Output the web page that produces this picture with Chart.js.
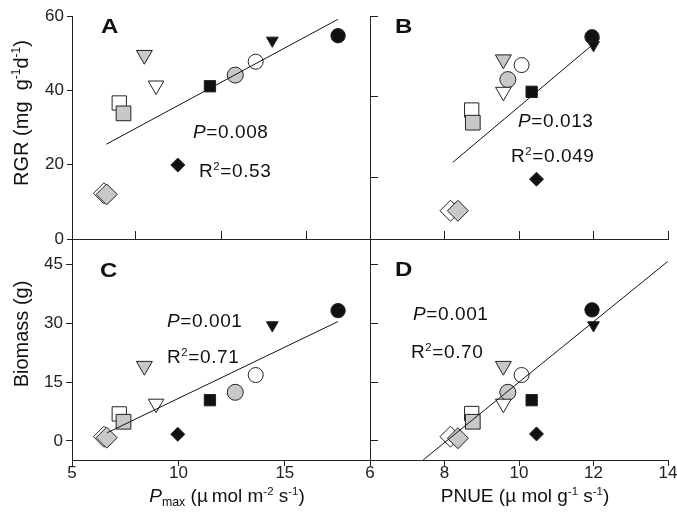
<!DOCTYPE html>
<html>
<head>
<meta charset="utf-8">
<script src="https://cdn.jsdelivr.net/npm/chart.js@4.4.0/dist/chart.umd.min.js"></script>
<style>
  html, body { margin: 0; padding: 0; background: #fff; overflow: hidden; }
  #wrap { position: relative; width: 677px; height: 517px; overflow: hidden; }
  canvas { position: absolute; left: 0; top: 0; }
  .t { position: absolute; font-family: 'Liberation Sans', Arial, sans-serif; color: #111; white-space: nowrap; }
  .ann { font-size: 19px; line-height: 19px; letter-spacing: 0.6px; }
  .lab { font-size: 20px; line-height: 20px; font-weight: bold; transform: scaleX(1.2); transform-origin: left top; }
  .ytitle { font-size: 20px; line-height: 20px; transform: translate(-50%, -50%) rotate(-90deg); }
  .xtitle { font-size: 19px; line-height: 19px; transform: translateX(-50%); }
  sup { font-size: 0.6em; vertical-align: 0.65em; line-height: 0; }
  sub { font-size: 0.65em; vertical-align: -0.3em; line-height: 0; }
</style>
</head>
<body>
<div id="wrap">
  <canvas id="chartA" width="700" height="540"></canvas>
  <canvas id="chartB" width="700" height="540"></canvas>
  <canvas id="chartC" width="700" height="540"></canvas>
  <canvas id="chartD" width="700" height="540"></canvas>

  <div class="t lab" style="left:101px; top:16px">A</div>
  <div class="t lab" style="left:395px; top:16px">B</div>
  <div class="t lab" style="left:100px; top:260px">C</div>
  <div class="t lab" style="left:395px; top:259px">D</div>

  <div class="t ann" style="left:193px; top:122px"><i>P</i>=0.008</div>
  <div class="t ann" style="left:199px; top:161px">R<sup>2</sup>=0.53</div>
  <div class="t ann" style="left:518px; top:111px"><i>P</i>=0.013</div>
  <div class="t ann" style="left:511px; top:146px">R<sup>2</sup>=0.049</div>
  <div class="t ann" style="left:167px; top:311px"><i>P</i>=0.001</div>
  <div class="t ann" style="left:167px; top:347px">R<sup>2</sup>=0.71</div>
  <div class="t ann" style="left:413px; top:304px"><i>P</i>=0.001</div>
  <div class="t ann" style="left:411px; top:342px">R<sup>2</sup>=0.70</div>

  <div class="t ytitle" style="left:21px; top:113px">RGR (mg&nbsp; g<sup>-1</sup>d<sup>-1</sup>)</div>
  <div class="t ytitle" style="left:21px; top:334px">Biomass (g)</div>
  <div class="t xtitle" style="left:227px; top:486px"><i>P</i><sub>max</sub> (&micro;&thinsp;mol m<sup>-2</sup> s<sup>-1</sup>)</div>
  <div class="t xtitle" style="left:525px; top:486px">PNUE (&micro; mol g<sup>-1</sup> s<sup>-1</sup>)</div>
</div>

<script>
// marker order: black / white / grey circle, triangle (down), square, diamond
const pointStyles = ['circle', 'circle', 'circle', 'triangle', 'triangle', 'triangle',
  'rect', 'rect', 'rect', 'rectRot', 'rectRot', 'rectRot'];
const rotations = [0, 0, 0, 180, 180, 180, 0, 0, 0, 0, 0, 0];
const radii = [7.2, 7.5, 8, 6.8, 9, 9.2, 8, 10.1, 10.4, 7, 10.5, 10.5];
const fills = ['#111', '#fff', '#c8c8c8', '#111', '#fff', '#c8c8c8',
  '#111', '#fff', '#c8c8c8', '#111', '#fff', '#c8c8c8'];

// values
const pmax = [17.5, 13.63, 12.67, 14.41, 8.95, 8.4, 11.48, 7.22, 7.42, 9.97, 6.5, 6.63];
const pnue = [11.96, 10.07, 9.7, 12.0, 9.58, 9.58, 10.34, 8.73, 8.76, 10.47, 8.16, 8.36];
const rgrA = [54.7, 47.7, 44.1, 53.4, 41.3, 49.5, 41.1, 36.6, 33.8, 19.9, 12.3, 12.0];
const rgrB = [54.4, 46.8, 42.9, 52.2, 39.6, 48.3, 39.6, 34.7, 31.3, 16.1, 7.6, 7.6];
const bioC = [33.2, 16.8, 12.4, 29.5, 9.5, 19.1, 10.4, 6.9, 4.9, 1.7, 1.1, 0.85];
const bioD = [33.4, 16.8, 12.4, 29.5, 9.5, 19.1, 10.4, 7.0, 4.9, 1.8, 1.1, 0.7];

// regression lines (end points)
const fitAx = [6.61, 17.49], fitAy = [25.5, 59.1];
const fitBx = [8.22, 12.17], fitBy = [20.6, 53.9];
const fitCx = [6.65, 17.49], fitCy = [2.1, 30.4];
const fitDx = [7.43, 13.99], fitDy = [-4.8, 45.7];

// ticks
const pmaxTicksTop = [8, 12, 16];
const pmaxTicks = [5, 10, 15];
const pnueTicks = [6, 8, 10, 12, 14];
const rgrTicks = [0, 20, 40, 60];
const rgrTicksB = [16.5, 38.25, 60];
const bioTicks = [0, 15, 30, 45];

const FONT = "'Liberation Sans', Arial, sans-serif";
const CW = 700, CH = 540, YW = 60, XH = 40;
const INK = '#222';

const innerTicks = {
  id: 'innerTicks',
  afterDraw(chart, args, opts) {
    const ctx = chart.ctx;
    const area = chart.chartArea;
    ctx.save();
    ctx.strokeStyle = INK;
    ctx.lineWidth = 1;
    (opts.x || []).forEach(v => {
      const px = Math.round(chart.scales.x.getPixelForValue(v) - 0.5) + 0.5;
      ctx.beginPath();
      ctx.moveTo(px, area.bottom);
      ctx.lineTo(px, area.bottom - opts.len);
      ctx.stroke();
    });
    (opts.y || []).forEach(v => {
      const py = Math.round(chart.scales.y.getPixelForValue(v) - 0.5) + 0.5;
      ctx.beginPath();
      ctx.moveTo(area.left, py);
      ctx.lineTo(area.left + opts.len, py);
      ctx.stroke();
    });
    ctx.restore();
  }
};

function axis(o) {
  return {
    type: 'linear',
    min: o.min,
    max: o.max,
    bounds: 'data',
    afterBuildTicks: s => { s.ticks = o.ticks.map(v => ({ value: v })); },
    afterFit: s => { if (o.horizontal) s.height = XH; else s.width = YW; },
    ticks: {
      display: o.labels,
      autoSkip: false,
      maxRotation: 0,
      padding: o.horizontal ? -3 : 3,
      color: INK,
      font: { family: FONT, size: 17 },
      callback: v => String(v)
    },
    grid: o.outward
      ? { display: true, drawOnChartArea: false, drawTicks: true, tickLength: o.len, color: INK, lineWidth: 1 }
      : { display: false },
    border: { display: true, color: INK, width: 1 }
  };
}

function makePanel(id, p) {
  const pts = p.x.map((v, i) => ({ x: v, y: p.y[i] }));
  const line = p.fitX.map((v, i) => ({ x: v, y: p.fitY[i] }));
  new Chart(document.getElementById(id), {
    type: 'scatter',
    data: {
      datasets: [
        { data: line, showLine: true, borderColor: '#111', borderWidth: 1, pointRadius: 0, order: 0, clip: false },
        {
          data: pts,
          pointStyle: pointStyles,
          pointRadius: radii,
          pointRotation: rotations,
          backgroundColor: fills,
          borderColor: '#222',
          borderWidth: 1,
          order: 1,
          clip: false
        }
      ]
    },
    options: {
      responsive: false,
      animation: false,
      events: [],
      layout: {
        padding: {
          left: p.area[0] - YW,
          top: p.area[1],
          right: CW - p.area[2],
          bottom: CH - p.area[3] - XH
        }
      },
      scales: { x: p.xAxis, y: p.yAxis },
      plugins: {
        legend: { display: false },
        tooltip: { enabled: false },
        innerTicks: { x: p.inX || [], y: p.inY || [], len: 8 }
      }
    },
    plugins: [innerTicks]
  });
}

makePanel('chartA', {
  area: [72, 16, 370, 239],
  x: pmax, y: rgrA, fitX: fitAx, fitY: fitAy,
  xAxis: axis({ horizontal: true, min: 5, max: 19, ticks: pmaxTicksTop, labels: false, outward: false }),
  yAxis: axis({ min: 0, max: 60, ticks: rgrTicks, labels: true, outward: true, len: 5 }),
  inX: pmaxTicksTop
});

makePanel('chartB', {
  area: [370, 16, 668, 239],
  x: pnue, y: rgrB, fitX: fitBx, fitY: fitBy,
  xAxis: axis({ horizontal: true, min: 6, max: 14, ticks: pnueTicks, labels: false, outward: false }),
  yAxis: axis({ min: 0, max: 60, ticks: rgrTicksB, labels: false, outward: false }),
  inX: pnueTicks.slice(1), inY: rgrTicksB
});

makePanel('chartC', {
  area: [72, 239, 370, 460],
  x: pmax, y: bioC, fitX: fitCx, fitY: fitCy,
  xAxis: axis({ horizontal: true, min: 5, max: 19, ticks: pmaxTicks, labels: true, outward: true, len: 6 }),
  yAxis: axis({ min: -4.84, max: 51.44, ticks: bioTicks, labels: true, outward: true, len: 6 })
});

makePanel('chartD', {
  area: [370, 239, 668, 460],
  x: pnue, y: bioD, fitX: fitDx, fitY: fitDy,
  xAxis: axis({ horizontal: true, min: 6, max: 14, ticks: pnueTicks, labels: true, outward: true, len: 6 }),
  yAxis: axis({ min: -4.84, max: 51.44, ticks: bioTicks, labels: false, outward: false }),
  inY: bioTicks
});
</script>
</body>
</html>
